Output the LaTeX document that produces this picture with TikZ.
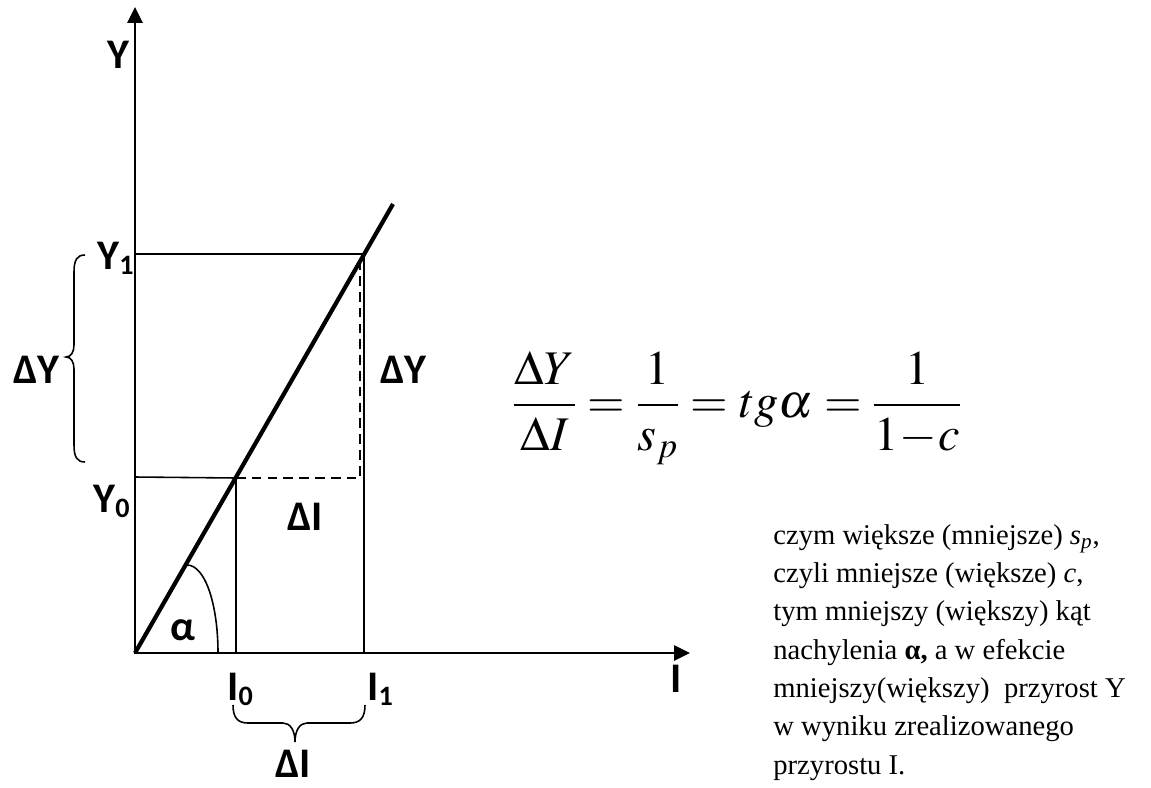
\documentclass[tikz,border=0pt]{standalone}
\usepackage{mathptmx}
\usepackage[no-math]{fontspec}
\newfontfamily\calfont{Carlito}
\newfontfamily\timesfont{Liberation Serif}
\usepackage{tikz}
\usetikzlibrary{arrows.meta}
\newcommand{\lsub}[1]{\raisebox{-3.4pt}{\fontsize{16}{16}\selectfont #1}}

\begin{document}
\begin{tikzpicture}[x=0.02cm,y=-0.02cm,>={Triangle[length=0.32cm,width=0.3cm]},
  lab/.style={font=\calfont\bfseries\fontsize{24}{28}\selectfont,anchor=base west,inner sep=0pt},
  thinline/.style={line width=0.9pt},
  dashline/.style={line width=0.9pt,dash pattern=on 5.5pt off 3.5pt}]
\useasboundingbox (0,0) rectangle (1151,787);
% axes and the line
\coordinate (O) at (135,653);
\coordinate (ytop) at (135,7);
\coordinate (xend) at (690,653);
\coordinate (T) at (393,204);
\coordinate (A) at (236,478);
\coordinate (B) at (364,254);
\coordinate (y0) at (135,477);
\coordinate (y1) at (135,254);
\coordinate (i0) at (236,653);
\coordinate (i1) at (364,653);
\coordinate (d1) at (360,254);
\coordinate (d2) at (360,478);
\coordinate (aS) at (187,565);
\coordinate (aE) at (218,653);
\draw[<->,line width=1.5pt] (ytop) -- (O) -- (xend);
\draw[line width=2.4pt] (O) -- (T);
\draw[thinline] (y1) -- (B) -- (i1);
\draw[thinline] (y0) -- (A) -- (i0);
\draw[dashline] (A) -- (d2) -- (d1);
\draw[thinline] (aS) .. controls (205,565) and (218,604) .. (aE);
% braces
\draw[thinline] (85,255) .. controls (77,255) and (74,260) .. (74,272) -- (74,345)
  .. controls (74,352) and (71,357) .. (66,357) .. controls (71,357) and (74,362) .. (74,369)
  -- (74,445) .. controls (74,457) and (77,462) .. (85,462);
\draw[thinline] (233,705) .. controls (233,718) and (238,723) .. (248,723) -- (283,723)
  .. controls (290,723) and (295,730) .. (295,742) .. controls (295,730) and (300,723) .. (307,723)
  -- (350,723) .. controls (360,723) and (365,718) .. (365,705);
% labels
\node[lab] (ylab) at (107,69) {Y};
\node[lab] (xlab) at (670,692) {I};
\node[lab] (y1lab) at (97,269) {Y\lsub{1}};
\node[lab] (y0lab) at (93,512) {Y\lsub{0}};
\node[lab] (i0lab) at (227,700) {I\lsub{0}};
\node[lab] (i1lab) at (367,700) {I\lsub{1}};
\node[lab] (dyl) at (13,383) {ΔY};
\node[lab] (dyr) at (380,383) {ΔY};
\node[lab] (dim) at (287,530) {ΔI};
\node[lab] (dib) at (275,777) {ΔI};
\node[lab] (alab) at (170,640) {α};
% formula and comment
\node[anchor=west,inner sep=0pt] (eq) at (512,408)
  {\fontsize{27.5}{32}\selectfont$\displaystyle\frac{\Delta Y}{\Delta I}=\frac{1}{s_p}=tg\alpha=\frac{1}{1\!-\!c}$};
\node[anchor=north west,inner sep=0pt,align=left,font=\timesfont\fontsize{16.3}{21.8}\selectfont] (txt) at (773,524)
  {czym większe (mniejsze) \textit{s\textsubscript{p}},\\
   czyli mniejsze (większe) \textit{c},\\
   tym mniejszy (większy) kąt\\
   nachylenia \textbf{α,} a w efekcie\\
   mniejszy(większy)\ \ przyrost Y\\
   w wyniku zrealizowanego\\
   przyrostu I.};
\end{tikzpicture}
\end{document}
